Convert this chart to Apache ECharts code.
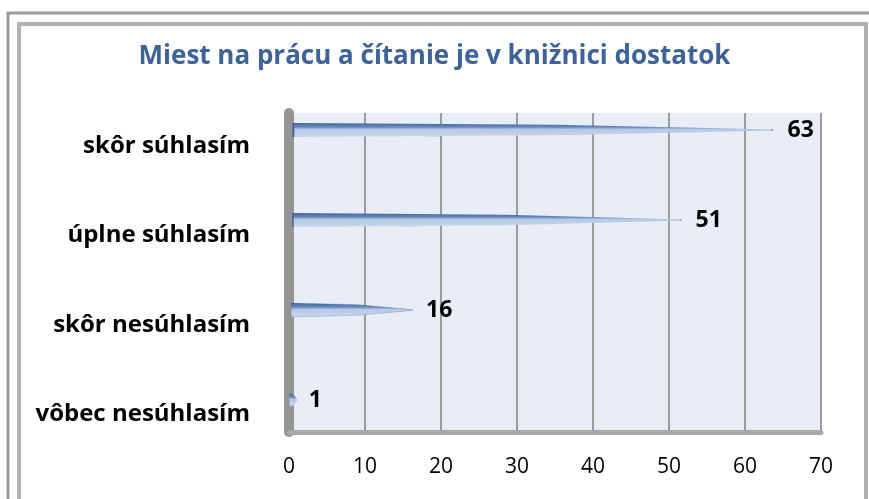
<!DOCTYPE html>
<html>
<head>
<meta charset="utf-8">
<script src="https://cdn.jsdelivr.net/npm/echarts@6/dist/echarts.min.js"></script>
<style>
  html, body { margin: 0; padding: 0; background: #fff; }
  #main { width: 869px; height: 499px; }
</style>
</head>
<body>
<div id="main"></div>
<script>
var categories = ['vôbec nesúhlasím', 'skôr nesúhlasím', 'úplne súhlasím', 'skôr súhlasím'];
var values = [1, 16, 51, 63];
var xTicks = [0, 10, 20, 30, 40, 50, 60, 70];

var myChart = echarts.init(document.getElementById('main'));

var font = 'Open Sans';

var option = {
    animation: false,
    title: {
        text: 'Miest na prácu a čítanie je v knižnici dostatok',
        left: 'center',
        top: 39,
        textStyle: {
            fontFamily: font,
            fontSize: 26,
            fontWeight: 'bold',
            color: '#3d6399'
        }
    },
    graphic: [
        // outer frame
        { type: 'rect', shape: { x: 8, y: 13, width: 880, height: 520 },
          style: { fill: 'none', stroke: '#9a9a9a', lineWidth: 3 } },
        { type: 'rect', shape: { x: 19, y: 24, width: 847, height: 520 },
          style: { fill: 'none', stroke: '#b0b0b0', lineWidth: 4 } }
    ],
    grid: [
        { left: 289, right: 48, top: 85, height: 360 },
        { left: 289, right: 48, top: 113, bottom: 67,
          show: true, backgroundColor: '#e9edf6', borderWidth: 0 },
        { left: 289, right: 48, top: 101, height: 358 }
    ],
    xAxis: [
        { gridIndex: 0, type: 'value', min: 0, max: 70, interval: 10, show: false },
        { gridIndex: 1, type: 'value', min: 0, max: 70, interval: 10,
          axisLine: { show: true, lineStyle: { color: '#a8a8a8', width: 5 } },
          axisTick: { show: false },
          splitLine: { show: true, lineStyle: { color: '#9c9c9c', width: 2 } },
          axisLabel: {
              margin: 25, fontFamily: font, fontSize: 21, color: '#000',
              formatter: function (v) { return xTicks.indexOf(v) >= 0 ? String(v) : ''; }
          } },
        { gridIndex: 2, type: 'value', min: 0, max: 70, interval: 10, show: false }
    ],
    yAxis: [
        { gridIndex: 0, type: 'category', data: categories, show: false },
        { gridIndex: 1, type: 'category', data: categories, offset: 5,
          axisLine: { show: true, lineStyle: { color: '#959595', width: 10 } },
          axisTick: { show: false }, axisLabel: { show: false },
          splitLine: { show: false } },
        { gridIndex: 2, type: 'category', data: categories,
          axisLine: { show: false }, axisTick: { show: false },
          axisLabel: {
              margin: 39, fontFamily: font, fontSize: 24, fontWeight: 'bold',
              color: '#000'
          } }
    ],
    series: [{
        type: 'pictorialBar',
        xAxisIndex: 0,
        yAxisIndex: 0,
        data: values,
        symbol: 'path://M0,0 L55,12 L100,47 L100,53 L55,88 L0,100 Z',
        symbolSize: ['100%', 14],
        symbolRepeat: false,
        itemStyle: {
            color: new echarts.graphic.LinearGradient(0, 0, 0, 1, [
                { offset: 0, color: '#3e659c' },
                { offset: 0.3, color: '#6a8bbd' },
                { offset: 0.45, color: '#b6c8e6' },
                { offset: 1, color: '#c9d7ee' }
            ]),
            borderColor: '#3a5f94',
            borderWidth: 1.5
        },
        label: {
            show: true,
            position: 'right',
            distance: 11,
            fontFamily: font,
            fontSize: 23,
            fontWeight: 'bold',
            color: '#000'
        }
    }]
};

myChart.setOption(option);

window.onresize = function () {
    myChart.resize();
};
</script>
</body>
</html>
